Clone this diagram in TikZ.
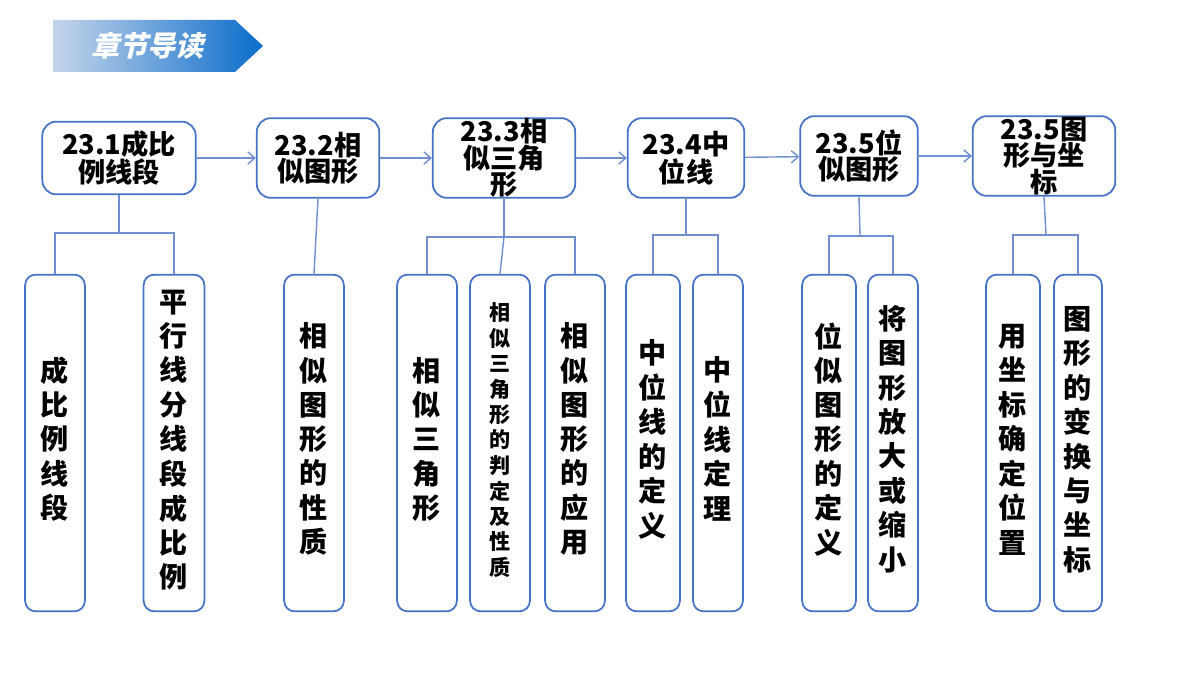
\documentclass[tikz,border=0pt]{standalone}
\usepackage{fontspec}
\setmainfont{Noto Sans CJK SC}
\usetikzlibrary{arrows.meta,shadings}
\definecolor{boxblue}{HTML}{4472C4}
\definecolor{linkblue}{HTML}{6F8FD0}
\definecolor{bandlight}{HTML}{C5D5EA}
\definecolor{banddark}{HTML}{0A6CCB}
\newcommand{\vtext}[1]{\begin{tabular}{@{}c@{}}#1\end{tabular}}
\begin{document}
\begin{tikzpicture}[x=0.02cm,y=-0.02cm,
    thick,
    top node/.style={rectangle,rounded corners=8pt,draw=boxblue,line width=1pt,fill=white,
      font=\bfseries\fontsize{15.5}{15}\selectfont,align=center,inner sep=0pt},
    leaf node/.style={rectangle,rounded corners=6pt,draw=boxblue,line width=1pt,fill=white,
      font=\bfseries\fontsize{16}{19.5}\selectfont,inner sep=0pt},
    link/.style={draw=linkblue,line width=0.8pt},
    next step/.style={draw=linkblue,line width=0.8pt,-{Straight Barb[length=4pt,width=7pt]}}]
  \useasboundingbox (0,0) rectangle (1200,675);

  % banner
  \shade[left color=bandlight,right color=banddark]
    (53,20) -- (235,20) -- (263,46) -- (235,72) -- (53,72) -- cycle;
  \node[text=white,font=\bfseries\fontsize{16}{16}\selectfont,xslant=0.25] (title) at (150,46) {章节导读};

  % chapter boxes
  \node[top node,minimum width=154*0.567pt,minimum height=73*0.567pt] (s1) at (119,158) {23.1成比\\例线段};
  \node[top node,minimum width=123*0.567pt,minimum height=80*0.567pt] (s2) at (318,158) {23.2相\\似图形};
  \node[top node,minimum width=143*0.567pt,minimum height=80*0.567pt] (s3) at (504,158) {};
  \node[font=\bfseries\fontsize{15.5}{15}\selectfont,align=center] (s3t) at (s3) {23.3相\\似三角\\形};
  \node[top node,minimum width=117*0.567pt,minimum height=80*0.567pt] (s4) at (686,158) {23.4中\\位线};
  \node[top node,minimum width=118*0.567pt,minimum height=80*0.567pt] (s5) at (859,156) {23.5位\\似图形};
  \node[top node,minimum width=143*0.567pt,minimum height=80*0.567pt] (s6) at (1044,156) {};
  \node[font=\bfseries\fontsize{15.5}{15}\selectfont,align=center] (s6t) at (s6) {23.5图\\形与坐\\标};

  \path[next step] (s1) edge (s2) (s2) edge (s3) (s3) edge (s4) (s4) edge (s5) (s5) edge (s6);

  % topic boxes
  \foreach \name/\cx/\w/\txt in {
      a/55/60/{成\\比\\例\\线\\段},
      b/174/61/{平\\行\\线\\分\\线\\段\\成\\比\\例},
      c/314/60/{相\\似\\图\\形\\的\\性\\质},
      d/427/60/{相\\似\\三\\角\\形},
      f/575/60/{相\\似\\图\\形\\的\\应\\用},
      g/653/54/{中\\位\\线\\的\\定\\义},
      h/718/50/{中\\位\\线\\定\\理},
      i/829/54/{位\\似\\图\\形\\的\\定\\义},
      j/893/50/{将\\图\\形\\放\\大\\或\\缩\\小},
      k/1013/54/{用\\坐\\标\\确\\定\\位\\置},
      l/1078/48/{图\\形\\的\\变\\换\\与\\坐\\标}}
    \node[leaf node,minimum width=\w*0.567pt,minimum height=338*0.567pt] (\name) at (\cx,443) {\vtext{\txt}};
  \node[leaf node,minimum width=60*0.567pt,minimum height=338*0.567pt,
        font=\bfseries\fontsize{12}{14.3}\selectfont] (e) at (500,443)
        {\vtext{相\\似\\三\\角\\形\\的\\判\\定\\及\\性\\质}};

  % tree links
  \draw[link] (s1.south) -- (119,233) coordinate (j1);
  \draw[link] (a.north) |- (j1) -| (b.north);
  \draw[link] (s2.south) -- (c.north);
  \draw[link] (s3.south) -- (504,237) coordinate (j3);
  \draw[link] (d.north) |- (j3) -| (f.north);
  \draw[link] (j3) -- (e.north);
  \draw[link] (s4.south) -- (686,235) coordinate (j4);
  \draw[link] (g.north) |- (j4) -| (h.north);
  \draw[link] (s5.south) -- (860,236) coordinate (j5);
  \draw[link] (i.north) |- (j5) -| (j.north);
  \draw[link] (s6.south) -- (1046,235) coordinate (j6);
  \draw[link] (k.north) |- (j6) -| (l.north);
\end{tikzpicture}
\end{document}
